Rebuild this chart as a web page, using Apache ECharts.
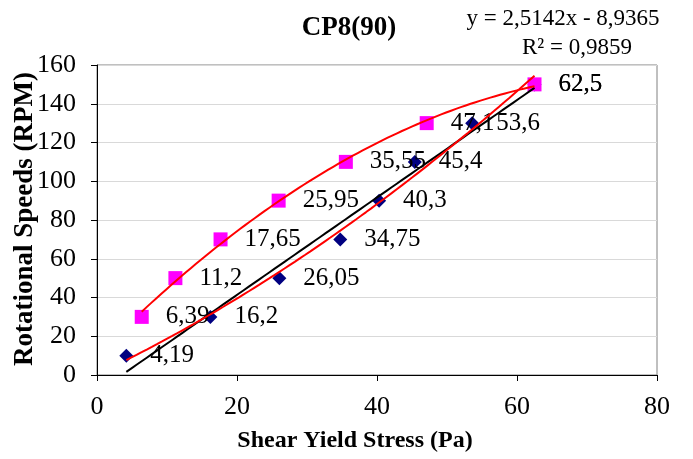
<!DOCTYPE html>
<html><head><meta charset="utf-8">
<script src="https://cdn.jsdelivr.net/npm/echarts@6/dist/echarts.min.js"></script>
<style>html,body{margin:0;padding:0;background:#fff}#c{width:693px;height:459px}</style>
</head><body><div id="c"></div>
<script>
// Data
const blueX = [4.19, 16.2, 26.05, 34.75, 40.3, 45.4, 53.6, 62.5];
const blueY = [10, 30, 50, 70, 90, 110, 130, 150];
const pinkX = [6.39, 11.2, 17.65, 25.95, 35.55, 47.1, 62.5];
const pinkY = [30, 50, 70, 90, 110, 130, 150];
const linSlope = 2.5142;
const linIntercept = -8.9365;
const eqText = 'y = 2,5142x - 8,9365';
const r2Text = 'R² = 0,9859';
const titleText = 'CP8(90)';
const xName = 'Shear Yield Stress (Pa)';
const yName = 'Rotational Speeds (RPM)';

// quadratic least squares (Excel polynomial trendline, order 2)
function polyfit2(xs, ys) {
  let s = [0,0,0,0,0], t = [0,0,0];
  for (let i = 0; i < xs.length; i++) {
    let p = 1;
    for (let k = 0; k < 5; k++) { s[k] += p; if (k < 3) t[k] += p * ys[i]; p *= xs[i]; }
  }
  const A = [[s[0],s[1],s[2],t[0]],[s[1],s[2],s[3],t[1]],[s[2],s[3],s[4],t[2]]];
  for (let i = 0; i < 3; i++) {
    for (let j = i + 1; j < 3; j++) {
      const f = A[j][i] / A[i][i];
      for (let k = i; k < 4; k++) A[j][k] -= f * A[i][k];
    }
  }
  const c = [0,0,0];
  for (let i = 2; i >= 0; i--) {
    let v = A[i][3];
    for (let k = i + 1; k < 3; k++) v -= A[i][k] * c[k];
    c[i] = v / A[i][i];
  }
  return c;
}
function curve(xs, fn) {
  const a = Math.min(...xs), b = Math.max(...xs), out = [];
  for (let i = 0; i <= 80; i++) { const x = a + (b - a) * i / 80; out.push([x, fn(x)]); }
  return out;
}
const cb = polyfit2(blueX, blueY), cp = polyfit2(pinkX, pinkY);
const bluePoly = curve(blueX, x => cb[0] + cb[1]*x + cb[2]*x*x);
const pinkPoly = curve(pinkX, x => cp[0] + cp[1]*x + cp[2]*x*x);
const blueLin = curve(blueX, x => linSlope * x + linIntercept);

const FONT = '"Liberation Serif", "Times New Roman", serif';
const fmt = p => String(p.value[0]).replace('.', ',');
const lbl = {show: true, position: 'right', distance: 17, color: '#000', fontFamily: FONT, fontSize: 25, formatter: fmt};

const chart = echarts.init(document.getElementById('c'), null, {renderer: 'canvas'});
chart.setOption({
  animation: false,
  backgroundColor: '#fff',
  grid: {left: 97, right: 36, top: 65, bottom: 84, containLabel: false, outerBoundsMode: 'none',
         show: true, borderColor: '#808080', borderWidth: 1, backgroundColor: 'transparent'},
  graphic: [
    {type: 'text', x: 349, y: 28, style: {text: titleText, font: 'bold 27px ' + FONT, fill: '#000', textAlign: 'center', textVerticalAlign: 'middle'}},
    {type: 'text', x: 563, y: 19, style: {text: eqText, font: '23px ' + FONT, fill: '#000', textAlign: 'center', textVerticalAlign: 'middle'}},
    {type: 'text', x: 577, y: 48, style: {text: r2Text, font: '23px ' + FONT, fill: '#000', textAlign: 'center', textVerticalAlign: 'middle'}},
    {type: 'text', x: 355, y: 441, style: {text: xName, font: 'bold 24px ' + FONT, fill: '#000', textAlign: 'center', textVerticalAlign: 'middle'}},
    {type: 'text', x: 25, y: 219, rotation: Math.PI / 2, style: {text: yName, font: 'bold 27px ' + FONT, fill: '#000', textAlign: 'center', textVerticalAlign: 'middle'}}
  ],
  xAxis: {
    type: 'value', min: 0, max: 80, interval: 20,
    axisLine: {lineStyle: {color: '#000', width: 1}},
    axisTick: {show: true, inside: false, length: 6, lineStyle: {color: '#000'}},
    axisLabel: {fontFamily: FONT, fontSize: 26, color: '#000', margin: 19},
    splitLine: {show: false}
  },
  yAxis: {
    type: 'value', min: 0, max: 160, interval: 20,
    axisLine: {show: true, lineStyle: {color: '#000', width: 1}},
    axisTick: {show: true, inside: false, length: 6, lineStyle: {color: '#000'}},
    axisLabel: {fontFamily: FONT, fontSize: 26, color: '#000', margin: 21},
    splitLine: {show: true, lineStyle: {color: '#d9d9d9', width: 1}}
  },
  series: [
    {type: 'scatter', name: 'blue', data: blueX.map((x, i) => [x, blueY[i]]), symbol: 'diamond', symbolSize: 14,
     itemStyle: {color: '#000080', opacity: 1}, label: lbl, z: 2},
    {type: 'scatter', name: 'pink', data: pinkX.map((x, i) => [x, pinkY[i]]), symbol: 'rect', symbolSize: 14,
     itemStyle: {color: '#FF00FF', opacity: 1}, label: lbl, z: 2},
    {type: 'line', data: blueLin, showSymbol: false, symbol: 'none', lineStyle: {color: '#000', width: 2}, z: 5, silent: true},
    {type: 'line', data: bluePoly, showSymbol: false, symbol: 'none', lineStyle: {color: '#FF0000', width: 2}, z: 5, silent: true},
    {type: 'line', data: pinkPoly, showSymbol: false, symbol: 'none', lineStyle: {color: '#FF0000', width: 2}, z: 5, silent: true}
  ]
});
</script>
</body></html>
